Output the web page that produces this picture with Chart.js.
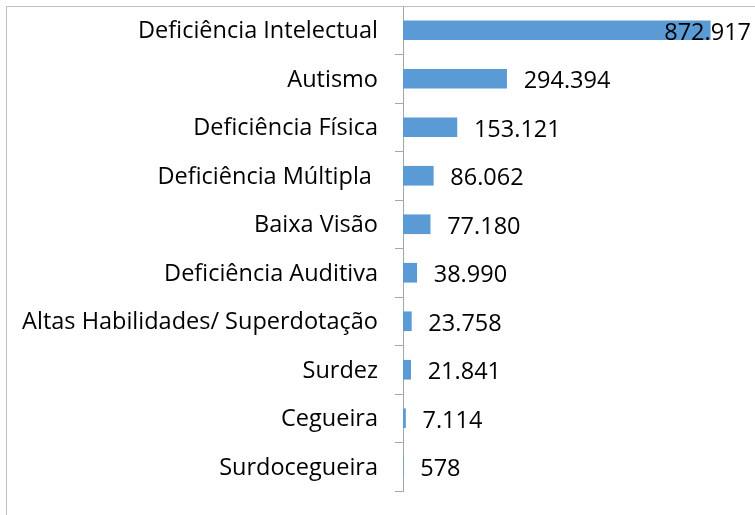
<!DOCTYPE html>
<html>
<head>
<meta charset="utf-8">
<script src="https://cdn.jsdelivr.net/npm/chart.js@4"></script>
<style>
  html, body { margin: 0; padding: 0; background: #fff; overflow: hidden; }
  #wrap { position: relative; width: 755px; height: 515px; }
  #frame {
    position: absolute; left: 6px; top: 6px; width: 800px; height: 600px;
    border: 1px solid #bfbfbf; pointer-events: none;
  }
</style>
</head>
<body>
<div id="wrap">
  <canvas id="chart" width="755" height="515"></canvas>
  <div id="frame"></div>
</div>
<script>
// ================================
// Data
// ================================
const categories = [
    'Deficiência Intelectual',
    'Autismo',
    'Deficiência Física',
    'Deficiência Múltipla ',
    'Baixa Visão',
    'Deficiência Auditiva',
    'Altas Habilidades/ Superdotação',
    'Surdez',
    'Cegueira',
    'Surdocegueira'
];
const matriculas = [872917, 294394, 153121, 86062, 77180, 38990, 23758, 21841, 7114, 578];
const xMax = 1000000;

const FONT = '"Open Sans", "Noto Sans", sans-serif';
const FONT_SIZE = 23.5;

// thousands with a dot, like the source
function fmt(v) {
    return String(v).replace(/\B(?=(\d{3})+(?!\d))/g, '.');
}

// ================================
// Value labels next to the bars
// ================================
const valueLabels = {
    id: 'valueLabels',
    afterDatasetsDraw(chart) {
        const ctx = chart.ctx;
        const meta = chart.getDatasetMeta(0);
        ctx.save();
        ctx.font = FONT_SIZE + 'px ' + FONT;
        ctx.fillStyle = '#000';
        ctx.textBaseline = 'middle';
        ctx.textAlign = 'left';
        meta.data.forEach((bar, i) => {
            const txt = fmt(matriculas[i]);
            const w = ctx.measureText(txt).width;
            let x = bar.x + 17;
            if (x + w > chart.width - 4) x = chart.width - 4 - w;
            ctx.fillText(txt, x, bar.y + 3);
        });
        ctx.restore();
    }
};

new Chart(document.getElementById('chart').getContext('2d'), {
    type: 'bar',
    data: {
        labels: categories,
        datasets: [{
            data: matriculas,
            backgroundColor: '#5b9bd5',
            borderWidth: 0,
            barThickness: 19
        }]
    },
    options: {
        indexAxis: 'y',
        responsive: false,
        animation: false,
        layout: { padding: { top: 6, bottom: 24, left: 0, right: 0 } },
        plugins: {
            legend: { display: false },
            tooltip: { enabled: false }
        },
        scales: {
            x: {
                display: false,
                min: 0,
                max: xMax
            },
            y: {
                grid: {
                    offset: true,
                    drawOnChartArea: false,
                    drawTicks: true,
                    tickLength: 8,
                    color: '#a6a6a6'
                },
                border: { display: true, color: '#a6a6a6', width: 1 },
                ticks: {
                    color: '#000',
                    padding: 17,
                    labelOffset: 1.5,
                    font: { family: FONT, size: FONT_SIZE }
                },
                afterFit(scale) {
                    scale.width = 403;
                    scale.paddingTop = 0;
                    scale.paddingBottom = 0;
                }
            }
        }
    },
    plugins: [valueLabels]
});
</script>
</body>
</html>
